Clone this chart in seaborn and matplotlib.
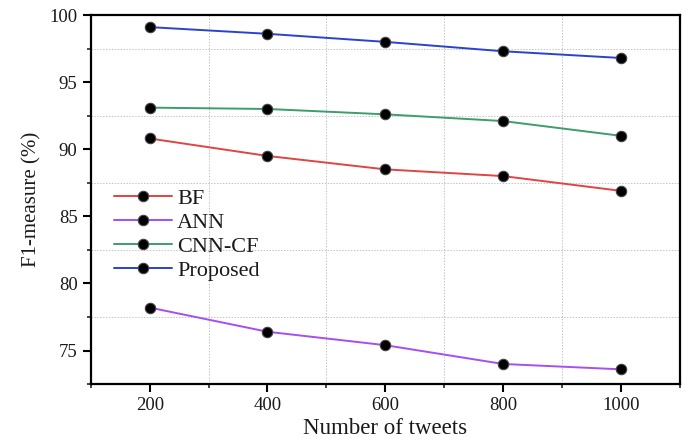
import matplotlib
matplotlib.use("Agg")
import matplotlib.pyplot as plt
import seaborn as sns
import pandas as pd
from matplotlib.ticker import MultipleLocator

tweets = [200, 400, 600, 800, 1000]
bf = [90.8, 89.5, 88.5, 88.0, 86.9]
ann = [78.2, 76.4, 75.4, 74.0, 73.6]
cnn_cf = [93.1, 93.0, 92.6, 92.1, 91.0]
proposed = [99.1, 98.6, 98.0, 97.3, 96.8]
series_names = ["BF", "ANN", "CNN-CF", "Proposed"]
colors = ["#e04444", "#a64ef2", "#3c9e6c", "#2a42d4"]

rows = []
for name, vals in zip(series_names, [bf, ann, cnn_cf, proposed]):
    for x, v in zip(tweets, vals):
        rows.append({"tweets": x, "f1": v, "method": name})
df = pd.DataFrame(rows)

sns.set_style("white")
plt.rcParams["font.family"] = ["Liberation Serif", "DejaVu Serif"]

fig = plt.figure(figsize=(6.88, 4.42), dpi=100)
ax = fig.add_axes([0.132, 0.131, 0.856, 0.835])

sns.lineplot(data=df, x="tweets", y="f1", hue="method", hue_order=series_names,
             palette=colors, marker="o", markersize=7.5, markerfacecolor="black",
             markeredgecolor="#444444", markeredgewidth=0.8, linewidth=1.4, ax=ax)

ax.set_xlim(100, 1100)
ax.set_ylim(72.5, 100)
ax.set_xticks([200, 400, 600, 800, 1000])
ax.set_yticks([75, 80, 85, 90, 95, 100])
ax.xaxis.set_minor_locator(MultipleLocator(100))
ax.yaxis.set_minor_locator(MultipleLocator(2.5))
ax.grid(which="minor", linestyle=(0, (1.5, 1.5)), color="#c4c4c4", linewidth=0.7)
ax.grid(which="major", visible=False)
ax.tick_params(axis="both", which="major", direction="out", length=6, width=1.5,
               labelsize=13.5, bottom=True, left=True, top=False, right=False,
               colors="black", labelcolor="#1a1a1a")
ax.tick_params(axis="both", which="minor", direction="out", length=3, width=1.2,
               bottom=True, left=True, top=False, right=False)
for s in ax.spines.values():
    s.set_linewidth(1.6)
    s.set_color("black")

ax.set_xlabel("Number of tweets", fontsize=16.5, color="#1a1a1a", labelpad=3)
ax.set_ylabel("F1-measure (%)", fontsize=15, color="#1a1a1a", labelpad=6)

leg = ax.legend(loc="upper left", bbox_to_anchor=(0.039, 0.53), frameon=False,
                fontsize=16, handlelength=2.6, handletextpad=0.25, labelspacing=0.15,
                borderpad=0, borderaxespad=0)
for h in leg.get_lines():
    h.set_linewidth(1.4)
for t in leg.get_texts():
    t.set_color("#1a1a1a")

fig.savefig("out.png", dpi=100)
